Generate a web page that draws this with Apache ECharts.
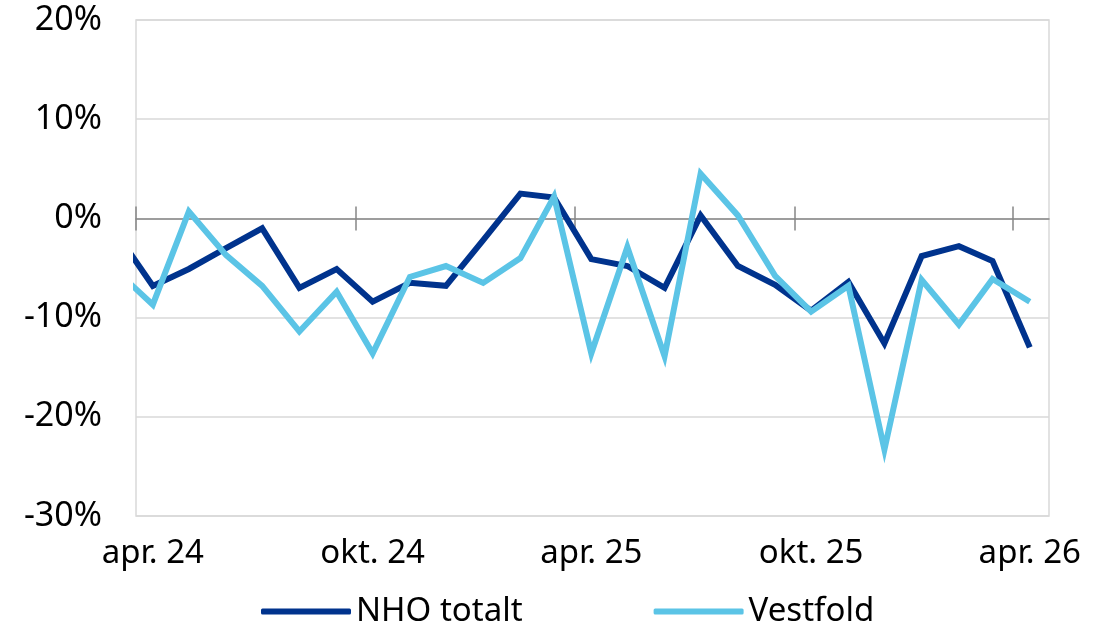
<!DOCTYPE html>
<html>
<head>
<meta charset="utf-8">
<script src="https://cdn.jsdelivr.net/npm/echarts@6/dist/echarts.min.js"></script>
<style>
  html, body { margin: 0; padding: 0; background: #fff; }
  #main { width: 1107px; height: 624px; }
</style>
</head>
<body>
<div id="main"></div>
<script>
// måneder (midt i måneden)
var months = ['2024-03-15', '2024-04-15', '2024-05-15', '2024-06-15', '2024-07-15', '2024-08-15',
  '2024-09-15', '2024-10-15', '2024-11-15', '2024-12-15', '2025-01-15', '2025-02-15',
  '2025-03-15', '2025-04-15', '2025-05-15', '2025-06-15', '2025-07-15', '2025-08-15',
  '2025-09-15', '2025-10-15', '2025-11-15', '2025-12-15', '2026-01-15', '2026-02-15',
  '2026-03-15', '2026-04-15'];
var nhoTotalt = [-1.4, -6.8, -5.1, -3.0, -1.0, -7.0, -5.1, -8.4, -6.5, -6.8, -2.2, 2.5,
  2.1, -4.1, -4.8, -7.0, 0.3, -4.8, -6.7, -9.3, -6.4, -12.6, -3.8, -2.8, -4.3, -13.0];
var vestfold = [-5.2, -8.7, 0.7, -3.7, -6.8, -11.4, -7.4, -13.6, -5.9, -4.8, -6.5, -4.0,
  2.2, -13.6, -2.9, -13.9, 4.5, 0.3, -5.8, -9.4, -6.8, -23.3, -6.2, -10.7, -6.1, -8.4];
// akse
var tickDates = ['2024-04-01', '2024-10-01', '2025-04-01', '2025-10-01', '2026-04-01'];
var labelDates = ['2024-04-15', '2024-10-15', '2025-04-15', '2025-10-15', '2026-04-15'];
var tickLabels = ['apr. 24', 'okt. 24', 'apr. 25', 'okt. 25', 'apr. 26'];
var xMin = '2024-04-01', xMax = '2026-05-01';

var font = 'Noto Sans';
function ms(d) { return echarts.time.parse(d).getTime(); }
var labelTimes = labelDates.map(ms);
var tickTimes = tickDates.map(ms);

function pair(arr) {
  return months.map(function (m, i) { return [ms(m), arr[i]]; });
}

var myChart = echarts.init(document.getElementById('main'));

var tickAxis = {
  type: 'value', min: ms(xMin), max: ms(xMax), gridIndex: 0,
  axisLine: { show: true, onZero: true, onZeroAxisIndex: 0, lineStyle: { color: '#868686', width: 1.5 } },
  axisTick: { show: true, customValues: tickTimes, length: 12, lineStyle: { color: '#868686', width: 1.5 } },
  axisLabel: { show: false },
  splitLine: { show: false }
};

var option = {
  animation: false,
  textStyle: { fontFamily: font },
  grid: {
    left: 136, top: 20, right: 58, bottom: 108,
    show: true, borderColor: '#d9d9d9', borderWidth: 1.5, containLabel: false
  },
  legend: {
    left: 256, top: 590,
    icon: 'roundRect',
    itemWidth: 90, itemHeight: 6, itemGap: 131,
    textStyle: { fontFamily: font, fontSize: 33, color: '#000' },
    data: ['NHO totalt', 'Vestfold']
  },
  xAxis: [
    {
      type: 'value', min: ms(xMin), max: ms(xMax), position: 'bottom',
      axisLine: { show: false, onZero: false },
      axisTick: { show: false },
      splitLine: { show: false },
      axisLabel: {
        customValues: labelTimes,
        margin: 21,
        fontFamily: font, fontSize: 33, color: '#000',
        formatter: function (val) {
          var i = labelTimes.indexOf(val);
          return i >= 0 ? tickLabels[i] : '';
        }
      }
    },
    Object.assign({}, tickAxis, { position: 'bottom' }),
    Object.assign({}, tickAxis, { position: 'top', axisLine: { show: false, onZero: true, onZeroAxisIndex: 0 } })
  ],
  yAxis: {
    type: 'value', min: -30, max: 20, interval: 10,
    axisLine: { show: false },
    axisTick: { show: false },
    splitLine: { lineStyle: { color: '#d9d9d9', width: 1.5 } },
    axisLabel: { formatter: '{value}%', fontFamily: font, fontSize: 34, color: '#000', margin: 34 }
  },
  series: [
    {
      name: 'NHO totalt', type: 'line', xAxisIndex: 0, data: pair(nhoTotalt),
      symbol: 'none', color: '#00338d',
      lineStyle: { width: 6, color: '#00338d', join: 'miter' }
    },
    {
      name: 'Vestfold', type: 'line', xAxisIndex: 0, data: pair(vestfold),
      symbol: 'none', color: '#5bc4e6',
      lineStyle: { width: 6, color: '#5bc4e6', join: 'miter' }
    }
  ]
};

myChart.setOption(option);
</script>
</body>
</html>
